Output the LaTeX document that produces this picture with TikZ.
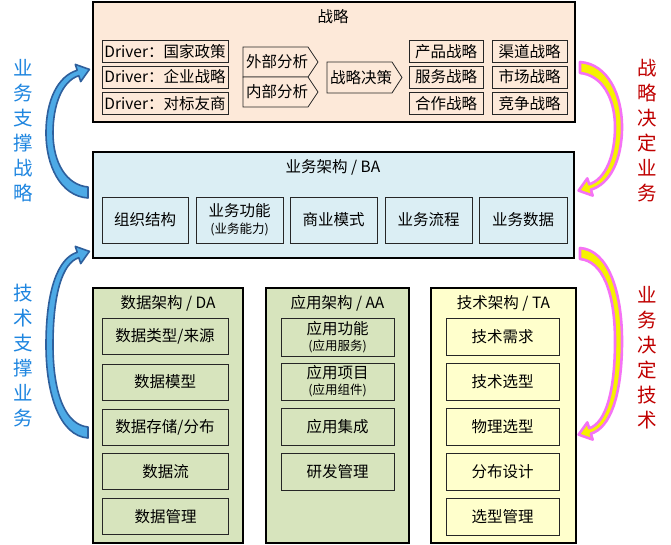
\documentclass[tikz,border=0pt]{standalone}
\usepackage{fontspec}
\setmainfont{Noto Sans CJK SC}
\definecolor{stratbg}{HTML}{FDE9D9}
\definecolor{babg}{HTML}{DBEEF4}
\definecolor{greenbg}{HTML}{D7E4BD}
\definecolor{yellowbg}{HTML}{FFFFCC}
\definecolor{leftblue}{HTML}{1F86E0}
\definecolor{rightred}{HTML}{C00000}
\definecolor{arrblue}{HTML}{4DAAE6}
\definecolor{arrblueline}{HTML}{2E5F9C}
\definecolor{arrpink}{HTML}{F572F5}
\definecolor{arryellow}{HTML}{F6F200}
\newcommand\fsA{\fontsize{15.5}{19}\selectfont}
\newcommand\fsS{\fontsize{12.5}{15}\selectfont}
\newcommand\fsSide{\fontsize{19.5}{25}\selectfont}
\begin{document}
\begin{tikzpicture}[x=1pt,y=-1pt,
  container/.style={draw=black, line width=2.2pt},
  ibox/.style={draw=black!85, line width=0.8pt, inner sep=0pt, align=center, font=\fsA},
  ttl/.style={inner sep=0pt, font=\fsA},
  pent/.style={draw=black!85, line width=0.8pt, fill=stratbg},
  sidel/.style={inner sep=0pt, align=center, font=\fsSide, text=leftblue},
  sider/.style={inner sep=0pt, align=center, font=\fsSide, text=rightred},
  bluearr/.style={draw=arrblueline, line width=1.6pt, fill=arrblue, line join=round},
  pinkarr/.style={draw=arrpink, line width=2.6pt, fill=arryellow, line join=round}
]
\useasboundingbox (0,0) rectangle (671,545);
\fill[white] (0,0) rectangle (671,545);

% ---------- Strategy ----------
\draw[container, fill=stratbg] (93,2) rectangle (575,122);
\node[ttl] (tS) at (333,17) {战略};
\node[ibox, minimum width=126pt, minimum height=22pt] (d1) at (165,51.5) {Driver：国家政策};
\node[ibox, minimum width=126pt, minimum height=22pt] (d2) at (165,77) {Driver：企业战略};
\node[ibox, minimum width=126pt, minimum height=22pt] (d3) at (165,103.5) {Driver：对标友商};

\draw[pent] (243,47) -- (308,47) -- (318,62) -- (308,77) -- (243,77) -- cycle;
\draw[pent] (243,77) -- (308,77) -- (318,92) -- (308,107) -- (243,107) -- cycle;
\draw[pent] (327,62) -- (392,62) -- (402,77.5) -- (392,93) -- (327,93) -- cycle;
\node[ttl] (ext) at (277,62) {外部分析};
\node[ttl] (int) at (277,92) {内部分析};
\node[ttl] (dec) at (361,77.5) {战略决策};

\node[ibox, minimum width=74pt, minimum height=22pt] (s1) at (446,51.5) {产品战略};
\node[ibox, minimum width=74pt, minimum height=22pt] (s2) at (446,77) {服务战略};
\node[ibox, minimum width=74pt, minimum height=22pt] (s3) at (446,103.5) {合作战略};
\node[ibox, minimum width=75pt, minimum height=22pt] (s4) at (529.5,51.5) {渠道战略};
\node[ibox, minimum width=75pt, minimum height=22pt] (s5) at (529.5,77) {市场战略};
\node[ibox, minimum width=75pt, minimum height=22pt] (s6) at (529.5,103.5) {竞争战略};

% ---------- BA ----------
\draw[container, fill=babg] (93,152) rectangle (574,258);
\node[ttl] (tBA) at (333,167) {业务架构 / BA};
\node[ibox, minimum width=86pt, minimum height=46pt] (b1) at (145,220) {组织结构};
\node[ibox, minimum width=87pt, minimum height=46pt] (b2) at (239.5,220) {业务功能\\[-2pt]{\fsS (业务能力)}};
\node[ibox, minimum width=87pt, minimum height=46pt] (b3) at (333.5,220) {商业模式};
\node[ibox, minimum width=87pt, minimum height=46pt] (b4) at (428.5,220) {业务流程};
\node[ibox, minimum width=88pt, minimum height=46pt] (b5) at (523,220) {业务数据};

% ---------- DA ----------
\draw[container, fill=greenbg] (93,288) rectangle (243,543);
\node[ttl] (tDA) at (168,303) {数据架构 / DA};
\node[ibox, minimum width=126pt, minimum height=36pt] (da1) at (165,336) {数据类型/来源};
\node[ibox, minimum width=126pt, minimum height=36pt] (da2) at (165,382) {数据模型};
\node[ibox, minimum width=126pt, minimum height=36pt] (da3) at (165,427) {数据存储/分布};
\node[ibox, minimum width=126pt, minimum height=36pt] (da4) at (165.5,471.5) {数据流};
\node[ibox, minimum width=126pt, minimum height=36pt] (da5) at (165.5,516.5) {数据管理};

% ---------- AA ----------
\draw[container, fill=greenbg] (266,288) rectangle (409,543);
\node[ttl] (tAA) at (337.5,303) {应用架构 / AA};
\node[ibox, minimum width=113pt, minimum height=38pt] (aa1) at (337.5,337) {应用功能\\[-3pt]{\fsS (应用服务)}};
\node[ibox, minimum width=113pt, minimum height=37pt] (aa2) at (337.5,381.5) {应用项目\\[-3pt]{\fsS (应用组件)}};
\node[ibox, minimum width=113pt, minimum height=37pt] (aa3) at (337.5,426.5) {应用集成};
\node[ibox, minimum width=113pt, minimum height=37pt] (aa4) at (337.5,471.5) {研发管理};

% ---------- TA ----------
\draw[container, fill=yellowbg] (431,288) rectangle (576,543);
\node[ttl] (tTA) at (503.5,303) {技术架构 / TA};
\node[ibox, minimum width=113pt, minimum height=37pt] (ta1) at (502.5,336.5) {技术需求};
\node[ibox, minimum width=113pt, minimum height=37pt] (ta2) at (502.5,381.5) {技术选型};
\node[ibox, minimum width=113pt, minimum height=37pt] (ta3) at (502.5,426.5) {物理选型};
\node[ibox, minimum width=113pt, minimum height=37pt] (ta4) at (502.5,471.5) {分布设计};
\node[ibox, minimum width=113pt, minimum height=37pt] (ta5) at (502.5,516.5) {选型管理};

% ---------- side texts ----------
\node[sidel] (L1) at (23,131) {业\\务\\支\\撑\\战\\略};
\node[sidel] (L2) at (23,356) {技\\术\\支\\撑\\业\\务};
\node[sider] (R1) at (647,131) {战\\略\\决\\定\\业\\务};
\node[sider] (R2) at (647,358) {业\\务\\决\\定\\技\\术};

% ---------- curved arrows ----------
\path[bluearr] (88,198) .. controls (60,196) and (46,165) .. (46,133)
  .. controls (46,100) and (58,76) .. (77.2,70.3) -- (75.3,64.4) -- (89.4,69.4)
  -- (80.7,81.6) -- (78.8,75.7) .. controls (62,81) and (53,105) .. (53,133)
  .. controls (53,162) and (66,185) .. (88,187) -- cycle;
\path[bluearr] (88,438) .. controls (60,436) and (46,395) .. (46,345)
  .. controls (46,290) and (58,258) .. (77.2,252.3) -- (75.3,246.4) -- (89.4,251.4)
  -- (80.7,263.6) -- (78.8,257.7) .. controls (62,263) and (53,295) .. (53,345)
  .. controls (53,395) and (66,425) .. (88,427) -- cycle;
\begin{scope}[shift={(668,260)}, xscale=-1, yscale=-1]
\path[pinkarr] (88,198) .. controls (60,196) and (46,165) .. (46,133)
  .. controls (46,100) and (58,76) .. (77.2,70.3) -- (75.3,64.4) -- (89.4,69.4)
  -- (80.7,81.6) -- (78.8,75.7) .. controls (62,81) and (53,105) .. (53,133)
  .. controls (53,162) and (66,185) .. (88,187) -- cycle;
\end{scope}
\begin{scope}[shift={(668,686)}, xscale=-1, yscale=-1]
\path[pinkarr] (88,438) .. controls (60,436) and (46,395) .. (46,345)
  .. controls (46,290) and (58,258) .. (77.2,252.3) -- (75.3,246.4) -- (89.4,251.4)
  -- (80.7,263.6) -- (78.8,257.7) .. controls (62,263) and (53,295) .. (53,345)
  .. controls (53,395) and (66,425) .. (88,427) -- cycle;
\end{scope}
\end{tikzpicture}
\end{document}
